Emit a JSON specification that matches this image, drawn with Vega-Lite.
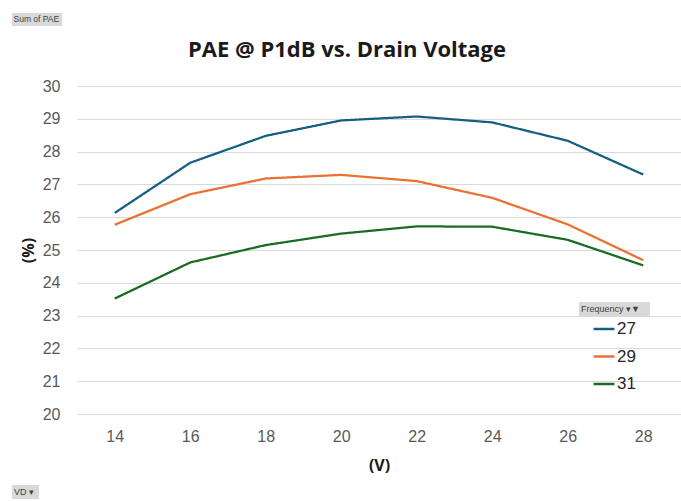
{
  "$schema": "https://vega.github.io/schema/vega-lite/v6.json",
  "width": 604,
  "height": 328,
  "autosize": {"type": "none"},
  "padding": {"left": 77, "top": 86, "right": 0, "bottom": 87},
  "background": "white",
  "title": {
    "text": "PAE @ P1dB vs. Drain Voltage",
    "anchor": "middle",
    "frame": "group",
    "dx": -32,
    "dy": 80,
    "offset": 14,
    "baseline": "alphabetic",
    "font": "Open Sans",
    "fontSize": 22,
    "fontWeight": "bold",
    "color": "#1a1a1a"
  },
  "data": {
    "values": [
      {"VD": 14, "Frequency": "27", "PAE": 26.13},
      {"VD": 16, "Frequency": "27", "PAE": 27.66},
      {"VD": 18, "Frequency": "27", "PAE": 28.48},
      {"VD": 20, "Frequency": "27", "PAE": 28.95},
      {"VD": 22, "Frequency": "27", "PAE": 29.07},
      {"VD": 24, "Frequency": "27", "PAE": 28.89},
      {"VD": 26, "Frequency": "27", "PAE": 28.33},
      {"VD": 28, "Frequency": "27", "PAE": 27.30},
      {"VD": 14, "Frequency": "29", "PAE": 25.77},
      {"VD": 16, "Frequency": "29", "PAE": 26.70},
      {"VD": 18, "Frequency": "29", "PAE": 27.18},
      {"VD": 20, "Frequency": "29", "PAE": 27.29},
      {"VD": 22, "Frequency": "29", "PAE": 27.10},
      {"VD": 24, "Frequency": "29", "PAE": 26.59},
      {"VD": 26, "Frequency": "29", "PAE": 25.78},
      {"VD": 28, "Frequency": "29", "PAE": 24.69},
      {"VD": 14, "Frequency": "31", "PAE": 23.52},
      {"VD": 16, "Frequency": "31", "PAE": 24.62},
      {"VD": 18, "Frequency": "31", "PAE": 25.15},
      {"VD": 20, "Frequency": "31", "PAE": 25.50},
      {"VD": 22, "Frequency": "31", "PAE": 25.72},
      {"VD": 24, "Frequency": "31", "PAE": 25.71},
      {"VD": 26, "Frequency": "31", "PAE": 25.31},
      {"VD": 28, "Frequency": "31", "PAE": 24.53}
    ]
  },
  "mark": {"type": "line", "strokeWidth": 2.25, "strokeJoin": "round", "strokeCap": "butt"},
  "encoding": {
    "x": {
      "field": "VD",
      "type": "ordinal",
      "sort": "ascending",
      "title": "(V)",
      "axis": {
        "labelAngle": 0,
        "domain": false,
        "ticks": false,
        "grid": false,
        "labelPadding": 14,
        "labelFont": "Liberation Sans",
        "labelFontSize": 16,
        "labelColor": "#595959",
        "titleFont": "Open Sans",
        "titleFontSize": 16,
        "titleFontWeight": "bold",
        "titleColor": "#1a1a1a",
        "titleX": 302,
        "titleY": 51,
        "titleBaseline": "middle",
        "titleAlign": "center"
      }
    },
    "y": {
      "field": "PAE",
      "type": "quantitative",
      "title": "(%)",
      "scale": {"domain": [20, 30], "nice": false, "zero": false},
      "axis": {
        "values": [20, 21, 22, 23, 24, 25, 26, 27, 28, 29, 30],
        "domain": false,
        "ticks": false,
        "grid": true,
        "gridColor": "#d9d9d9",
        "gridWidth": 1,
        "labelPadding": 17,
        "labelFont": "Liberation Sans",
        "labelFontSize": 16,
        "labelColor": "#595959",
        "titleFont": "Open Sans",
        "titleFontSize": 16,
        "titleFontWeight": "bold",
        "titleColor": "#1a1a1a",
        "titleAngle": -90,
        "titleX": -49,
        "titleY": 164,
        "titleBaseline": "middle",
        "titleAlign": "center"
      }
    },
    "color": {
      "field": "Frequency",
      "type": "nominal",
      "scale": {"domain": ["27", "29", "31"], "range": ["#156082", "#E97132", "#196B24"]},
      "legend": {
        "title": null,
        "orient": "none",
        "legendX": 515,
        "legendY": 231,
        "padding": 0,
        "symbolType": "stroke",
        "symbolSize": 441,
        "symbolStrokeWidth": 2.5,
        "labelOffset": 1,
        "labelFont": "Liberation Sans",
        "labelFontSize": 17,
        "labelColor": "#262626",
        "rowPadding": 7.5
      }
    },
    "strokeDash": {
      "datum": "Sum of PAE",
      "scale": {"range": [[1, 0]]},
      "legend": {
        "title": null,
        "orient": "none",
        "legendX": -65,
        "legendY": -73,
        "padding": 2,
        "fillColor": "#d9d9d9",
        "symbolOpacity": 0,
        "symbolStrokeWidth": 0,
        "symbolSize": 0,
        "labelOffset": -9,
        "labelFont": "Liberation Sans",
        "labelFontSize": 8.5,
        "labelColor": "#404040"
      }
    },
    "opacity": {
      "datum": "VD  ▾",
      "scale": {"type": "ordinal", "range": [1]},
      "legend": {
        "title": null,
        "orient": "none",
        "legendX": -65,
        "legendY": 399,
        "padding": 2,
        "fillColor": "#d9d9d9",
        "symbolOpacity": 0,
        "symbolStrokeWidth": 0,
        "symbolSize": 0,
        "labelOffset": -9,
        "labelFont": "Liberation Sans",
        "labelFontSize": 9,
        "labelColor": "#404040"
      }
    },
    "strokeWidth": {
      "datum": "Frequency    ▾▼",
      "scale": {"type": "ordinal", "range": [2.25]},
      "legend": {
        "title": null,
        "orient": "none",
        "legendX": 502,
        "legendY": 216,
        "padding": 2,
        "fillColor": "#d9d9d9",
        "symbolOpacity": 0,
        "symbolStrokeWidth": 0,
        "symbolSize": 0,
        "labelOffset": -9,
        "labelFont": "Liberation Sans",
        "labelFontSize": 9,
        "labelColor": "#404040"
      }
    }
  },
  "config": {
    "view": {"stroke": null}
  }
}
